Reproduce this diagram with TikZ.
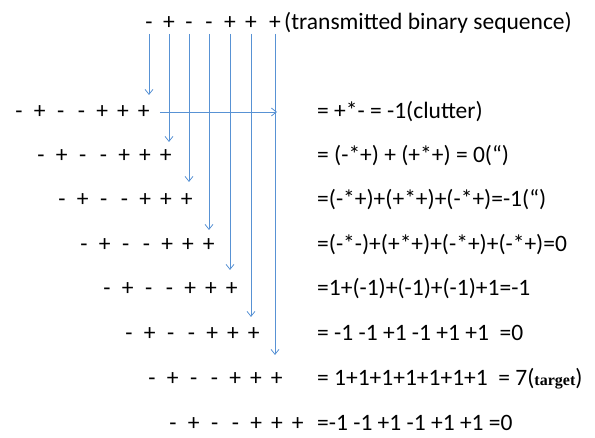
\documentclass[tikz,border=0pt]{standalone}
\usepackage{fontspec}
\setmainfont{Carlito}
\newfontfamily\tgtfont{Liberation Serif}
\usetikzlibrary{arrows.meta}
\definecolor{arrblue}{RGB}{88,146,212}
\begin{document}
\begin{tikzpicture}[x=1pt,y=1pt,
  sym/.style={inner sep=0pt,anchor=base,font=\fontsize{23.5}{28}\selectfont},
  eqn/.style={inner sep=0pt,anchor=base west,font=\fontsize{23.5}{28}\selectfont},
  arr/.style={draw=arrblue,line width=0.8pt,-{Straight Barb[length=5pt,width=8pt]}}]
\useasboundingbox (0,0) rectangle (595,438);
% top transmitted sequence
\foreach \k/\s/\x in {1/-/149,2/+/169,3/-/189,4/-/209,5/+/230,6/+/251,7/+/275}
  \node[sym] (t-\k) at (\x,408) {\s};
\node[eqn] (ttxt) at (284,408) {(transmitted binary sequence)};
% received rows
\foreach \r/\f/\Y in {1/19/319,2/41/275,3/62/231,4/84/186,5/107/142,6/129/97,7/152/52,8/173/7}{
  \foreach \k/\s in {1/-,2/+,3/-,4/-,5/+,6/+,7/+}
    \node[sym] (r\r-\k) at ({\f+20.8*(\k-1)},\Y) {\s};
}
% equations
\node[eqn] (e1) at (317,319) {= +*- = -1(clutter)};
\node[eqn] (e2) at (317,275) {= (-*+) + (+*+) = 0(“)};
\node[eqn] (e3) at (317,231) {=(-*+)+(+*+)+(-*+)=-1(“)};
\node[eqn] (e4) at (317,186) {=(-*-)+(+*+)+(-*+)+(-*+)=0};
\node[eqn] (e5) at (317,142) {=1+(-1)+(-1)+(-1)+1=-1};
\node[eqn] (e6) at (317,97) {= -1 -1 +1 -1 +1 +1\ \ =0};
\node[eqn] (e7) at (317,52) {= 1+1+1+1+1+1+1\ \ = 7({\tgtfont\bfseries\fontsize{16}{18}\selectfont target})};
\node[eqn] (e8) at (317,7) {=-1 -1 +1 -1 +1 +1 =0};
% vertical arrows
\foreach \k/\off in {1/24,2/21,3/25,4/22,5/26,6/24,7/31}
  \draw[arr] ([yshift=-4pt]t-\k.base) -- ([yshift=\off pt]t-\k.base |- r\k-7.base);
% horizontal arrow
\coordinate (hend) at (277,326);
\draw[arr] ([shift={(16pt,7pt)}]r1-7.base) -- (hend);
\end{tikzpicture}
\end{document}
